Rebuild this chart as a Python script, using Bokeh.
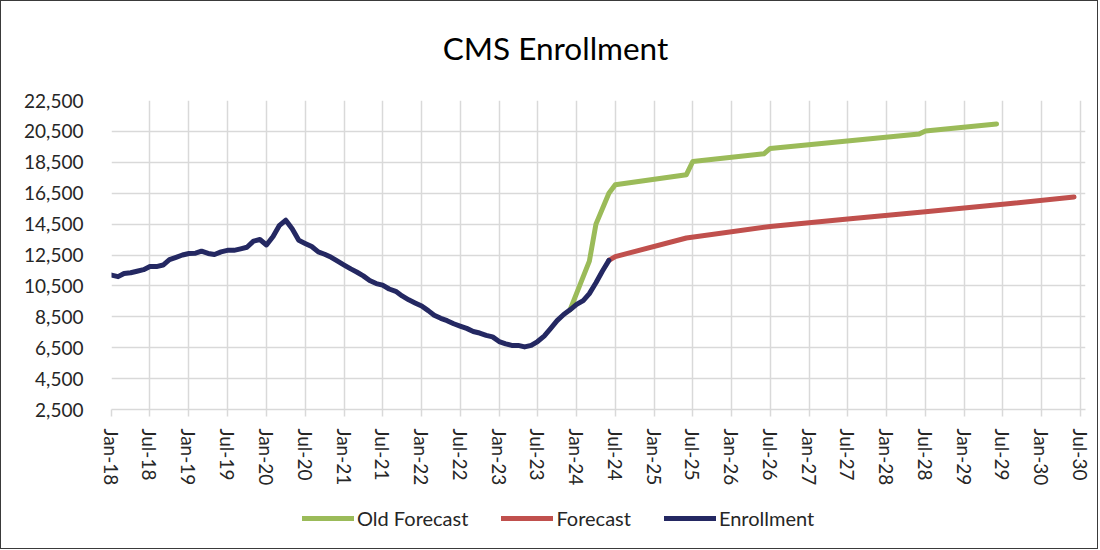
import pandas as pd
from datetime import datetime
from bokeh.plotting import figure
from bokeh.layouts import column
from bokeh.models import (Range1d, FixedTicker, DatetimeTickFormatter, Label,
                          NumeralTickFormatter, Legend, LegendItem, ColumnDataSource)
from bokeh.embed import file_html
from bokeh.resources import INLINE

# ---------------- data ----------------
title_text = "CMS Enrollment"
series_names = ["Old Forecast", "Forecast", "Enrollment"]

enroll_start = "2018-01-01"
enrollment = [
    11200, 11100, 11300, 11350, 11450, 11550, 11750, 11750, 11850, 12200, 12350, 12500,   # 2018
    12600, 12620, 12750, 12600, 12530, 12700, 12800, 12800, 12900, 13000, 13400, 13500,   # 2019
    13150, 13700, 14400, 14750, 14200, 13450, 13250, 13050, 12700, 12550, 12350, 12100,   # 2020
    11850, 11600, 11400, 11150, 10850, 10650, 10550, 10300, 10150, 9850, 9600, 9400,      # 2021
    9200, 8900, 8600, 8400, 8250, 8050, 7900, 7750, 7550, 7450, 7300, 7200,               # 2022
    6900, 6750, 6650, 6650, 6550, 6650, 6900, 7250, 7750, 8250, 8650, 8950,               # 2023
    9300, 9550, 10000, 10700, 11450, 12150,                                               # 2024
]

forecast_dates = ["2024-06-01", "2024-07-01", "2025-06-01", "2026-07-01",
                  "2027-07-01", "2028-07-01", "2029-07-01", "2030-06-01"]
forecast = [12150, 12400, 13600, 14350, 14830, 15300, 15780, 16250]

old_forecast_dates = ["2023-12-01", "2024-03-01", "2024-04-01", "2024-06-01",
                      "2024-07-01", "2025-06-01", "2025-07-01", "2026-06-01",
                      "2026-07-01", "2028-06-01", "2028-07-01", "2029-06-01"]
old_forecast = [8950, 12100, 14500, 16500, 17050, 17700, 18550, 19050,
                19400, 20330, 20530, 20980]

y_ticks = [2500, 4500, 6500, 8500, 10500, 12500, 14500, 16500, 18500, 20500, 22500]
x_tick_start, x_tick_end = "2018-01-01", "2030-07-01"

# ---------------- style ----------------
FONT = "Lato"
TXT = "#262626"
GRID = "#D9D9D9"
COLORS = ["#9BBB59", "#C0504D", "#242862"]
LW = 5
W = 1096

# ---------------- sources ----------------
enroll_src = ColumnDataSource(dict(
    x=pd.date_range(enroll_start, periods=len(enrollment), freq="MS"), y=enrollment))
fc_src = ColumnDataSource(dict(x=pd.to_datetime(forecast_dates), y=forecast))
old_src = ColumnDataSource(dict(x=pd.to_datetime(old_forecast_dates), y=old_forecast))
SOURCES = [old_src, fc_src, enroll_src]

tick_dates = pd.date_range(x_tick_start, x_tick_end, freq="6MS")
tick_ms = [(d - pd.Timestamp("1970-01-01")).total_seconds() * 1000 for d in tick_dates]


def blank(height):
    f = figure(width=W, height=height, min_border=0,
               x_range=Range1d(0, 1), y_range=Range1d(0, 1),
               x_axis_location=None, y_axis_location=None,
               output_backend="svg", toolbar_location=None, title=None,
               background_fill_color="white", border_fill_color="white")
    f.outline_line_color = None
    f.grid.visible = False
    return f


# ---------------- title strip ----------------
tf = blank(87)
tf.add_layout(Label(x=444, y=41, x_units="screen", y_units="screen",
                    text=title_text, text_align="center", text_baseline="middle",
                    text_font=FONT, text_font_size="31.5px", text_color="black"))

# ---------------- main plot ----------------
p = figure(frame_width=974, frame_height=309,
           min_border_left=110, min_border_right=12,
           min_border_top=12, min_border_bottom=90,
           x_axis_type="datetime",
           x_range=Range1d(datetime(2018, 1, 1), datetime(2030, 7, 25)),
           y_range=Range1d(2500, 22500), title=None,
           output_backend="svg", toolbar_location=None,
           background_fill_color="white", border_fill_color="white")
p.outline_line_color = None

for src, col in zip(SOURCES, COLORS):
    p.line("x", "y", source=src, color=col, line_width=LW,
           line_cap="round", line_join="round")

xt = FixedTicker(ticks=tick_ms)
p.xaxis.ticker = xt
p.xgrid.ticker = xt
fmt = "%b-%y"
p.xaxis.formatter = DatetimeTickFormatter(
    milliseconds=fmt, seconds=fmt, minsec=fmt, minutes=fmt, hourmin=fmt,
    hours=fmt, days=fmt, months=fmt, years=fmt)
p.xaxis.major_label_orientation = "vertical"
p.xaxis.major_label_text_font = FONT
p.xaxis.major_label_text_font_size = "19px"
p.xaxis.major_label_text_color = TXT
p.xaxis.major_label_standoff = 12
p.xaxis.major_tick_out = 7
p.xaxis.major_tick_in = 0
p.xaxis.minor_tick_line_color = None
p.xaxis.major_tick_line_color = GRID
p.xaxis.major_tick_line_width = 1.5
p.xaxis.axis_line_color = GRID
p.xaxis.axis_line_width = 1.5

yt = FixedTicker(ticks=y_ticks)
p.yaxis.ticker = yt
p.ygrid.ticker = yt
p.yaxis.formatter = NumeralTickFormatter(format="0,0")
p.yaxis.major_label_text_font = FONT
p.yaxis.major_label_text_font_size = "19px"
p.yaxis.major_label_text_color = TXT
p.yaxis.major_label_standoff = 28
p.yaxis.major_tick_out = 0
p.yaxis.major_tick_in = 0
p.yaxis.minor_tick_line_color = None
p.yaxis.axis_line_color = None

p.xgrid.grid_line_color = GRID
p.xgrid.grid_line_width = 1.5
p.ygrid.grid_line_color = GRID
p.ygrid.grid_line_width = 1.5

# ---------------- legend strip ----------------
# same series, drawn out of this strip's view; only their legend swatches show
lf = blank(49)
items = []
for name, src, col in zip(series_names, SOURCES, COLORS):
    rr = lf.line("x", "y", source=src, color=col, line_width=LW, line_cap="round")
    items.append(LegendItem(label=name, renderers=[rr]))
legend = Legend(items=items, orientation="horizontal", location=(191, 18),
                glyph_width=52, glyph_height=24, label_standoff=3, spacing=33,
                padding=0, margin=0, border_line_color=None,
                background_fill_alpha=0,
                label_text_font=FONT, label_text_font_size="20px",
                label_text_color=TXT)
lf.add_layout(legend)

layout = column(tf, p, lf, spacing=0, styles={"border": "1px solid #3a3a3a"})

open("out.html", "w").write(file_html(layout, INLINE))
